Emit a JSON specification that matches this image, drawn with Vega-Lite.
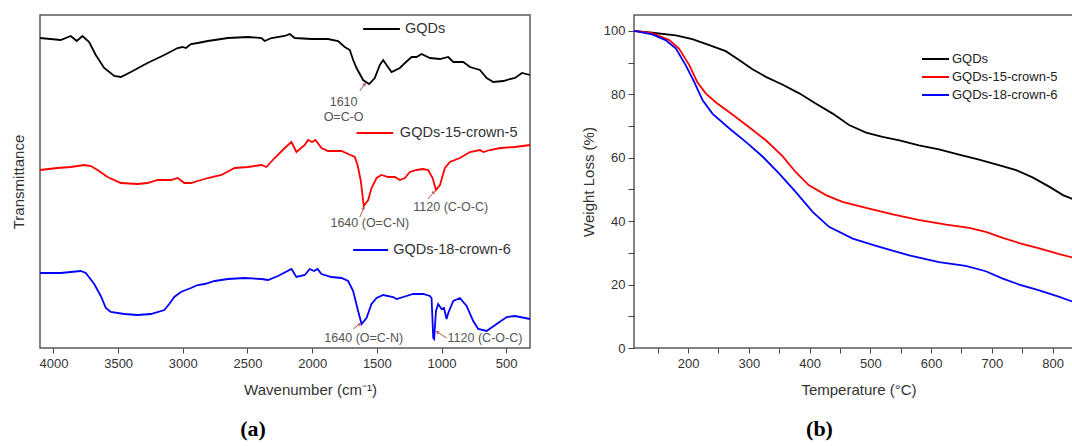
{
  "$schema": "https://vega.github.io/schema/vega-lite/v6.json",
  "background": "white",
  "padding": {"left": 10, "top": 14, "right": 0, "bottom": 0},
  "spacing": 45,
  "config": {
    "view": {"stroke": "#595959", "strokeWidth": 1.5},
    "axis": {"labelFont": "Liberation Sans", "titleFont": "Liberation Sans", "labelFontSize": 13, "titleFontSize": 15, "titleFontWeight": "normal", "labelColor": "#333", "titleColor": "#333", "tickColor": "#444", "grid": false, "domain": false},
    "title": {"font": "Liberation Serif", "fontSize": 22, "fontWeight": "bold", "color": "#000"}
  },
  "resolve": {"scale": {"color": "independent"}, "legend": {"color": "independent"}},
  "datasets": {
    "ftir": [
      {"s":"GQDs","wn":4104,"t":310},{"s":"GQDs","wn":3944,"t":308},{"s":"GQDs","wn":3866,"t":312},{"s":"GQDs","wn":3820,"t":307},{"s":"GQDs","wn":3776,"t":312},{"s":"GQDs","wn":3724,"t":306},{"s":"GQDs","wn":3673,"t":293},{"s":"GQDs","wn":3608,"t":280},{"s":"GQDs","wn":3530,"t":272},{"s":"GQDs","wn":3479,"t":271},{"s":"GQDs","wn":3402,"t":276},{"s":"GQDs","wn":3273,"t":285},{"s":"GQDs","wn":3143,"t":293},{"s":"GQDs","wn":3040,"t":300},{"s":"GQDs","wn":3002,"t":301},{"s":"GQDs","wn":2976,"t":300},{"s":"GQDs","wn":2937,"t":304},{"s":"GQDs","wn":2885,"t":305},{"s":"GQDs","wn":2806,"t":307},{"s":"GQDs","wn":2651,"t":310},{"s":"GQDs","wn":2496,"t":311},{"s":"GQDs","wn":2392,"t":310},{"s":"GQDs","wn":2367,"t":307},{"s":"GQDs","wn":2315,"t":310},{"s":"GQDs","wn":2212,"t":312},{"s":"GQDs","wn":2173,"t":314},{"s":"GQDs","wn":2135,"t":310},{"s":"GQDs","wn":2005,"t":309},{"s":"GQDs","wn":1877,"t":309},{"s":"GQDs","wn":1800,"t":307},{"s":"GQDs","wn":1748,"t":301},{"s":"GQDs","wn":1709,"t":298},{"s":"GQDs","wn":1683,"t":288},{"s":"GQDs","wn":1657,"t":280},{"s":"GQDs","wn":1606,"t":268},{"s":"GQDs","wn":1560,"t":264},{"s":"GQDs","wn":1516,"t":270},{"s":"GQDs","wn":1477,"t":283},{"s":"GQDs","wn":1451,"t":288},{"s":"GQDs","wn":1425,"t":283},{"s":"GQDs","wn":1386,"t":276},{"s":"GQDs","wn":1322,"t":280},{"s":"GQDs","wn":1283,"t":285},{"s":"GQDs","wn":1231,"t":291},{"s":"GQDs","wn":1193,"t":291},{"s":"GQDs","wn":1154,"t":294},{"s":"GQDs","wn":1090,"t":290},{"s":"GQDs","wn":1012,"t":289},{"s":"GQDs","wn":948,"t":291},{"s":"GQDs","wn":909,"t":286},{"s":"GQDs","wn":832,"t":286},{"s":"GQDs","wn":780,"t":281},{"s":"GQDs","wn":703,"t":278},{"s":"GQDs","wn":651,"t":270},{"s":"GQDs","wn":600,"t":266},{"s":"GQDs","wn":522,"t":267},{"s":"GQDs","wn":471,"t":269},{"s":"GQDs","wn":432,"t":270},{"s":"GQDs","wn":378,"t":275},{"s":"GQDs","wn":316,"t":273},
      {"s":"GQDs-15-crown-5","wn":4104,"t":178},{"s":"GQDs-15-crown-5","wn":3969,"t":180},{"s":"GQDs-15-crown-5","wn":3866,"t":181},{"s":"GQDs-15-crown-5","wn":3762,"t":183},{"s":"GQDs-15-crown-5","wn":3711,"t":182},{"s":"GQDs-15-crown-5","wn":3659,"t":178},{"s":"GQDs-15-crown-5","wn":3582,"t":171},{"s":"GQDs-15-crown-5","wn":3479,"t":165},{"s":"GQDs-15-crown-5","wn":3350,"t":164},{"s":"GQDs-15-crown-5","wn":3273,"t":165},{"s":"GQDs-15-crown-5","wn":3195,"t":168},{"s":"GQDs-15-crown-5","wn":3092,"t":168},{"s":"GQDs-15-crown-5","wn":3040,"t":170},{"s":"GQDs-15-crown-5","wn":2988,"t":165},{"s":"GQDs-15-crown-5","wn":2937,"t":165},{"s":"GQDs-15-crown-5","wn":2885,"t":167},{"s":"GQDs-15-crown-5","wn":2806,"t":170},{"s":"GQDs-15-crown-5","wn":2702,"t":173},{"s":"GQDs-15-crown-5","wn":2599,"t":180},{"s":"GQDs-15-crown-5","wn":2496,"t":181},{"s":"GQDs-15-crown-5","wn":2392,"t":183},{"s":"GQDs-15-crown-5","wn":2354,"t":181},{"s":"GQDs-15-crown-5","wn":2290,"t":190},{"s":"GQDs-15-crown-5","wn":2212,"t":200},{"s":"GQDs-15-crown-5","wn":2160,"t":206},{"s":"GQDs-15-crown-5","wn":2122,"t":196},{"s":"GQDs-15-crown-5","wn":2057,"t":203},{"s":"GQDs-15-crown-5","wn":2032,"t":208},{"s":"GQDs-15-crown-5","wn":2001,"t":206},{"s":"GQDs-15-crown-5","wn":1975,"t":208},{"s":"GQDs-15-crown-5","wn":1928,"t":200},{"s":"GQDs-15-crown-5","wn":1877,"t":197},{"s":"GQDs-15-crown-5","wn":1773,"t":197},{"s":"GQDs-15-crown-5","wn":1722,"t":194},{"s":"GQDs-15-crown-5","wn":1670,"t":191},{"s":"GQDs-15-crown-5","wn":1647,"t":182},{"s":"GQDs-15-crown-5","wn":1624,"t":167},{"s":"GQDs-15-crown-5","wn":1601,"t":142},{"s":"GQDs-15-crown-5","wn":1567,"t":148},{"s":"GQDs-15-crown-5","wn":1541,"t":160},{"s":"GQDs-15-crown-5","wn":1502,"t":170},{"s":"GQDs-15-crown-5","wn":1464,"t":173},{"s":"GQDs-15-crown-5","wn":1413,"t":171},{"s":"GQDs-15-crown-5","wn":1361,"t":171},{"s":"GQDs-15-crown-5","wn":1322,"t":168},{"s":"GQDs-15-crown-5","wn":1283,"t":170},{"s":"GQDs-15-crown-5","wn":1245,"t":176},{"s":"GQDs-15-crown-5","wn":1193,"t":178},{"s":"GQDs-15-crown-5","wn":1142,"t":179},{"s":"GQDs-15-crown-5","wn":1103,"t":178},{"s":"GQDs-15-crown-5","wn":1069,"t":170},{"s":"GQDs-15-crown-5","wn":1043,"t":158},{"s":"GQDs-15-crown-5","wn":1012,"t":163},{"s":"GQDs-15-crown-5","wn":974,"t":180},{"s":"GQDs-15-crown-5","wn":935,"t":186},{"s":"GQDs-15-crown-5","wn":858,"t":190},{"s":"GQDs-15-crown-5","wn":780,"t":196},{"s":"GQDs-15-crown-5","wn":703,"t":198},{"s":"GQDs-15-crown-5","wn":677,"t":196},{"s":"GQDs-15-crown-5","wn":625,"t":198},{"s":"GQDs-15-crown-5","wn":548,"t":200},{"s":"GQDs-15-crown-5","wn":432,"t":201},{"s":"GQDs-15-crown-5","wn":316,"t":203},
      {"s":"GQDs-18-crown-6","wn":4104,"t":75},{"s":"GQDs-18-crown-6","wn":3944,"t":75},{"s":"GQDs-18-crown-6","wn":3866,"t":76},{"s":"GQDs-18-crown-6","wn":3789,"t":77},{"s":"GQDs-18-crown-6","wn":3750,"t":75},{"s":"GQDs-18-crown-6","wn":3685,"t":64},{"s":"GQDs-18-crown-6","wn":3634,"t":52},{"s":"GQDs-18-crown-6","wn":3595,"t":40},{"s":"GQDs-18-crown-6","wn":3557,"t":36},{"s":"GQDs-18-crown-6","wn":3453,"t":34},{"s":"GQDs-18-crown-6","wn":3350,"t":33},{"s":"GQDs-18-crown-6","wn":3247,"t":34},{"s":"GQDs-18-crown-6","wn":3143,"t":38},{"s":"GQDs-18-crown-6","wn":3105,"t":44},{"s":"GQDs-18-crown-6","wn":3066,"t":51},{"s":"GQDs-18-crown-6","wn":3015,"t":56},{"s":"GQDs-18-crown-6","wn":2937,"t":60},{"s":"GQDs-18-crown-6","wn":2885,"t":63},{"s":"GQDs-18-crown-6","wn":2831,"t":64},{"s":"GQDs-18-crown-6","wn":2754,"t":67},{"s":"GQDs-18-crown-6","wn":2651,"t":69},{"s":"GQDs-18-crown-6","wn":2522,"t":70},{"s":"GQDs-18-crown-6","wn":2392,"t":69},{"s":"GQDs-18-crown-6","wn":2341,"t":68},{"s":"GQDs-18-crown-6","wn":2264,"t":72},{"s":"GQDs-18-crown-6","wn":2160,"t":79},{"s":"GQDs-18-crown-6","wn":2122,"t":71},{"s":"GQDs-18-crown-6","wn":2057,"t":73},{"s":"GQDs-18-crown-6","wn":2019,"t":79},{"s":"GQDs-18-crown-6","wn":1985,"t":77},{"s":"GQDs-18-crown-6","wn":1959,"t":79},{"s":"GQDs-18-crown-6","wn":1928,"t":74},{"s":"GQDs-18-crown-6","wn":1851,"t":71},{"s":"GQDs-18-crown-6","wn":1773,"t":70},{"s":"GQDs-18-crown-6","wn":1722,"t":67},{"s":"GQDs-18-crown-6","wn":1683,"t":57},{"s":"GQDs-18-crown-6","wn":1645,"t":37},{"s":"GQDs-18-crown-6","wn":1618,"t":24},{"s":"GQDs-18-crown-6","wn":1580,"t":30},{"s":"GQDs-18-crown-6","wn":1541,"t":44},{"s":"GQDs-18-crown-6","wn":1502,"t":50},{"s":"GQDs-18-crown-6","wn":1451,"t":53},{"s":"GQDs-18-crown-6","wn":1374,"t":51},{"s":"GQDs-18-crown-6","wn":1348,"t":49},{"s":"GQDs-18-crown-6","wn":1296,"t":51},{"s":"GQDs-18-crown-6","wn":1219,"t":54},{"s":"GQDs-18-crown-6","wn":1142,"t":54},{"s":"GQDs-18-crown-6","wn":1090,"t":52},{"s":"GQDs-18-crown-6","wn":1077,"t":50},{"s":"GQDs-18-crown-6","wn":1064,"t":10},{"s":"GQDs-18-crown-6","wn":1057,"t":9},{"s":"GQDs-18-crown-6","wn":1043,"t":37},{"s":"GQDs-18-crown-6","wn":1026,"t":44},{"s":"GQDs-18-crown-6","wn":1000,"t":39},{"s":"GQDs-18-crown-6","wn":981,"t":40},{"s":"GQDs-18-crown-6","wn":961,"t":29},{"s":"GQDs-18-crown-6","wn":948,"t":35},{"s":"GQDs-18-crown-6","wn":909,"t":47},{"s":"GQDs-18-crown-6","wn":858,"t":50},{"s":"GQDs-18-crown-6","wn":806,"t":42},{"s":"GQDs-18-crown-6","wn":755,"t":27},{"s":"GQDs-18-crown-6","wn":716,"t":19},{"s":"GQDs-18-crown-6","wn":651,"t":17},{"s":"GQDs-18-crown-6","wn":574,"t":24},{"s":"GQDs-18-crown-6","wn":496,"t":31},{"s":"GQDs-18-crown-6","wn":432,"t":32},{"s":"GQDs-18-crown-6","wn":316,"t":29}
    ],
    "ftirLegend": [
      {"s":"GQDs","wn":1606,"wn2":1322,"t":319,"tx":1283},
      {"s":"GQDs-15-crown-5","wn":1657,"wn2":1374,"t":215,"tx":1322},
      {"s":"GQDs-18-crown-6","wn":1683,"wn2":1413,"t":98,"tx":1374}
    ],
    "ftirNotes": [
      {"label":"1610","wn":1757,"t":246},
      {"label":"O=C-O","wn":1757,"t":231},
      {"label":"1640 (O=C-N)","wn":1554,"t":125},
      {"label":"1120 (C-O-C)","wn":929,"t":141},
      {"label":"1640 (O=C-N)","wn":1601,"t":10},
      {"label":"1120 (C-O-C)","wn":664,"t":10}
    ],
    "arrowsUp": [
      {"wn":1632,"t":257,"wn2":1593,"t2":264},
      {"wn":1632,"t":131,"wn2":1601,"t2":140},
      {"wn":1105,"t":149,"wn2":1059,"t2":156},
      {"wn":1683,"t":19,"wn2":1632,"t2":24}
    ],
    "arrowsLeft": [
      {"wn":961,"t":10,"wn2":1033,"t2":16}
    ],
    "tga": [
      {"s":"GQDs","T":111,"W":100},{"s":"GQDs","T":141,"W":99.4},{"s":"GQDs","T":180,"W":98.6},{"s":"GQDs","T":207,"W":97.4},{"s":"GQDs","T":235,"W":95.5},{"s":"GQDs","T":262,"W":93.6},{"s":"GQDs","T":284,"W":90.8},{"s":"GQDs","T":306,"W":87.9},{"s":"GQDs","T":328,"W":85.5},{"s":"GQDs","T":355,"W":83.1},{"s":"GQDs","T":383,"W":80.3},{"s":"GQDs","T":410,"W":77.1},{"s":"GQDs","T":438,"W":73.9},{"s":"GQDs","T":465,"W":70.3},{"s":"GQDs","T":493,"W":67.9},{"s":"GQDs","T":520,"W":66.6},{"s":"GQDs","T":548,"W":65.5},{"s":"GQDs","T":580,"W":63.9},{"s":"GQDs","T":613,"W":62.6},{"s":"GQDs","T":646,"W":61.0},{"s":"GQDs","T":679,"W":59.4},{"s":"GQDs","T":707,"W":57.9},{"s":"GQDs","T":740,"W":56.1},{"s":"GQDs","T":767,"W":53.8},{"s":"GQDs","T":795,"W":50.8},{"s":"GQDs","T":817,"W":48.2},{"s":"GQDs","T":835,"W":46.8},
      {"s":"GQDs-15-crown-5","T":111,"W":100},{"s":"GQDs-15-crown-5","T":141,"W":99.3},{"s":"GQDs-15-crown-5","T":169,"W":97.1},{"s":"GQDs-15-crown-5","T":185,"W":94.4},{"s":"GQDs-15-crown-5","T":202,"W":89.2},{"s":"GQDs-15-crown-5","T":215,"W":83.9},{"s":"GQDs-15-crown-5","T":229,"W":80.3},{"s":"GQDs-15-crown-5","T":246,"W":77.4},{"s":"GQDs-15-crown-5","T":273,"W":73.6},{"s":"GQDs-15-crown-5","T":300,"W":69.7},{"s":"GQDs-15-crown-5","T":328,"W":65.5},{"s":"GQDs-15-crown-5","T":355,"W":60.6},{"s":"GQDs-15-crown-5","T":377,"W":55.5},{"s":"GQDs-15-crown-5","T":399,"W":51.3},{"s":"GQDs-15-crown-5","T":427,"W":48.2},{"s":"GQDs-15-crown-5","T":454,"W":46.1},{"s":"GQDs-15-crown-5","T":493,"W":44.2},{"s":"GQDs-15-crown-5","T":537,"W":42.1},{"s":"GQDs-15-crown-5","T":581,"W":40.3},{"s":"GQDs-15-crown-5","T":625,"W":38.9},{"s":"GQDs-15-crown-5","T":663,"W":37.9},{"s":"GQDs-15-crown-5","T":690,"W":36.6},{"s":"GQDs-15-crown-5","T":718,"W":34.7},{"s":"GQDs-15-crown-5","T":745,"W":33.1},{"s":"GQDs-15-crown-5","T":778,"W":31.4},{"s":"GQDs-15-crown-5","T":811,"W":29.6},{"s":"GQDs-15-crown-5","T":835,"W":28.4},
      {"s":"GQDs-18-crown-6","T":111,"W":100},{"s":"GQDs-18-crown-6","T":141,"W":98.9},{"s":"GQDs-18-crown-6","T":163,"W":97.1},{"s":"GQDs-18-crown-6","T":180,"W":94.4},{"s":"GQDs-18-crown-6","T":196,"W":89.2},{"s":"GQDs-18-crown-6","T":210,"W":83.9},{"s":"GQDs-18-crown-6","T":224,"W":78.1},{"s":"GQDs-18-crown-6","T":240,"W":73.9},{"s":"GQDs-18-crown-6","T":268,"W":69.2},{"s":"GQDs-18-crown-6","T":295,"W":65.0},{"s":"GQDs-18-crown-6","T":323,"W":60.3},{"s":"GQDs-18-crown-6","T":350,"W":55.0},{"s":"GQDs-18-crown-6","T":377,"W":49.2},{"s":"GQDs-18-crown-6","T":405,"W":42.9},{"s":"GQDs-18-crown-6","T":432,"W":38.2},{"s":"GQDs-18-crown-6","T":471,"W":34.5},{"s":"GQDs-18-crown-6","T":515,"W":31.9},{"s":"GQDs-18-crown-6","T":564,"W":29.2},{"s":"GQDs-18-crown-6","T":613,"W":27.1},{"s":"GQDs-18-crown-6","T":657,"W":25.9},{"s":"GQDs-18-crown-6","T":690,"W":24.2},{"s":"GQDs-18-crown-6","T":718,"W":21.9},{"s":"GQDs-18-crown-6","T":745,"W":20.0},{"s":"GQDs-18-crown-6","T":778,"W":18.2},{"s":"GQDs-18-crown-6","T":811,"W":16.1},{"s":"GQDs-18-crown-6","T":835,"W":14.5}
    ]
  },
  "hconcat": [
    {
      "width": 490,
      "height": 333,
      "title": {"text": "(a)", "orient": "bottom", "offset": 22, "dx": -32},
      "layer": [
        {
          "data": {"name": "ftir"},
          "mark": {"type": "line", "strokeWidth": 1.8},
          "encoding": {
            "x": {"field": "wn", "type": "quantitative",
              "scale": {"domain": [316, 4104], "reverse": true, "nice": false, "zero": false},
              "axis": {"title": "Wavenumber (cm⁻¹)", "format": "d", "values": [500,750,1000,1250,1500,1750,2000,2250,2500,2750,3000,3250,3500,3750,4000], "labelExpr": "datum.value % 500 == 0 ? datum.label : ''", "tickSize": 5, "labelPadding": 4, "titlePadding": 12, "titleX": 270}},
            "y": {"field": "t", "type": "quantitative",
              "scale": {"domain": [0, 333], "nice": false, "zero": false},
              "axis": {"title": "Transmittance", "labels": false, "ticks": false, "titlePadding": 14}},
            "color": {"field": "s", "type": "nominal", "scale": {"domain": ["GQDs","GQDs-15-crown-5","GQDs-18-crown-6"], "range": ["#000000","#ff0000","#0000ff"]}, "legend": null}
          }
        },
        {
          "data": {"name": "ftirLegend"},
          "mark": {"type": "rule", "strokeWidth": 2},
          "encoding": {
            "x": {"field": "wn", "type": "quantitative"},
            "x2": {"field": "wn2"},
            "y": {"field": "t", "type": "quantitative"},
            "color": {"field": "s", "type": "nominal", "legend": null}
          }
        },
        {
          "data": {"name": "ftirLegend"},
          "mark": {"type": "text", "align": "left", "baseline": "middle", "font": "Liberation Sans", "fontSize": 14.5, "color": "#333"},
          "encoding": {
            "x": {"field": "tx", "type": "quantitative"},
            "y": {"field": "t", "type": "quantitative"},
            "text": {"field": "s"}
          }
        },
        {
          "data": {"name": "ftirNotes"},
          "mark": {"type": "text", "align": "center", "baseline": "middle", "font": "Liberation Sans", "fontSize": 12.5, "color": "#555"},
          "encoding": {
            "x": {"field": "wn", "type": "quantitative"},
            "y": {"field": "t", "type": "quantitative"},
            "text": {"field": "label"}
          }
        },
        {
          "data": {"name": "arrowsUp"},
          "mark": {"type": "rule", "strokeWidth": 1, "color": "#b85450"},
          "encoding": {
            "x": {"field": "wn", "type": "quantitative"},
            "x2": {"field": "wn2"},
            "y": {"field": "t", "type": "quantitative"},
            "y2": {"field": "t2"}
          }
        },
        {
          "data": {"name": "arrowsLeft"},
          "mark": {"type": "rule", "strokeWidth": 1, "color": "#b85450"},
          "encoding": {
            "x": {"field": "wn", "type": "quantitative"},
            "x2": {"field": "wn2"},
            "y": {"field": "t", "type": "quantitative"},
            "y2": {"field": "t2"}
          }
        },
        {
          "data": {"name": "arrowsUp"},
          "mark": {"type": "point", "shape": "triangle-up", "filled": true, "size": 14, "angle": 38, "color": "#b85450", "opacity": 1},
          "encoding": {
            "x": {"field": "wn2", "type": "quantitative"},
            "y": {"field": "t2", "type": "quantitative"}
          }
        },
        {
          "data": {"name": "arrowsLeft"},
          "mark": {"type": "point", "shape": "triangle-up", "filled": true, "size": 14, "angle": -57, "color": "#b85450", "opacity": 1},
          "encoding": {
            "x": {"field": "wn2", "type": "quantitative"},
            "y": {"field": "t2", "type": "quantitative"}
          }
        }
      ]
    },
    {
      "width": 449,
      "height": 333,
      "title": {"text": "(b)", "orient": "bottom", "offset": 22, "dx": -39},
      "data": {"name": "tga"},
      "mark": {"type": "line", "strokeWidth": 1.8},
      "encoding": {
        "x": {"field": "T", "type": "quantitative",
          "scale": {"domain": [111, 850], "nice": false, "zero": false},
          "axis": {"title": "Temperature (°C)", "format": "d", "values": [150,200,250,300,350,400,450,500,550,600,650,700,750,800], "labelExpr": "datum.value % 100 == 0 ? datum.label : ''", "tickSize": 5, "labelPadding": 4, "titlePadding": 12}},
        "y": {"field": "W", "type": "quantitative",
          "scale": {"domain": [0, 105], "nice": false, "zero": false},
          "axis": {"title": "Weight Loss (%)", "format": "d", "values": [0,10,20,30,40,50,60,70,80,90,100], "labelExpr": "datum.value % 20 == 0 ? datum.label : ''", "tickSize": 6, "labelPadding": 3, "titlePadding": 7}},
        "color": {"field": "s", "type": "nominal",
          "scale": {"domain": ["GQDs","GQDs-15-crown-5","GQDs-18-crown-6"], "range": ["#000000","#ff0000","#0000ff"]},
          "legend": {"title": null, "orient": "none", "legendX": 287, "legendY": 36, "symbolType": "stroke", "symbolSize": 729, "symbolStrokeWidth": 2, "labelFont": "Liberation Sans", "labelFontSize": 13, "labelColor": "#222", "labelOffset": 2, "clipHeight": 16, "rowPadding": 2}}
      }
    }
  ]
}
